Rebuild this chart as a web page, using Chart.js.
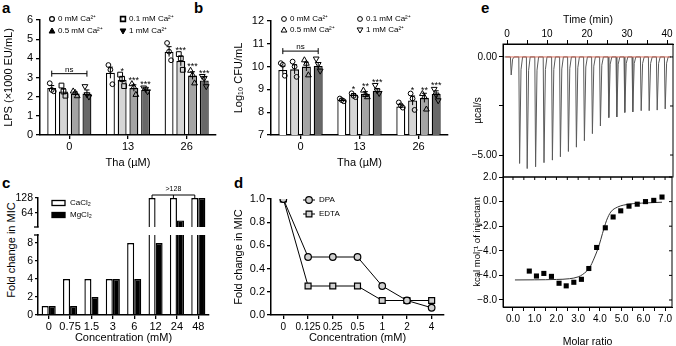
<!DOCTYPE html>
<html>
<head>
<meta charset="utf-8">
<script src="https://cdn.jsdelivr.net/npm/chart.js@4/dist/chart.umd.min.js"></script>
<style>
html,body{margin:0;padding:0;background:#fff;}
body{width:676px;height:346px;overflow:hidden;position:relative;font-family:'Liberation Sans',Arial,Helvetica,sans-serif;color:#000;}
canvas{position:absolute;}
.pl{position:absolute;font-weight:bold;font-size:15px;line-height:15px;}
.vt{position:absolute;width:200px;height:14px;line-height:14px;text-align:center;font-size:11px;transform:rotate(-90deg);white-space:nowrap;}
</style>
</head>
<body>
<div class="pl" style="left:2px;top:0px">a</div>
<div class="pl" style="left:194px;top:0px">b</div>
<div class="pl" style="left:2px;top:175px">c</div>
<div class="pl" style="left:234px;top:175px">d</div>
<div class="pl" style="left:481px;top:0px">e</div>
<div class="vt" style="left:-89px;top:243px">Fold change in MIC</div>
<canvas id="cA" width="218" height="175" style="left:0;top:0"></canvas>
<canvas id="cB" width="225" height="175" style="left:228px;top:0"></canvas>
<canvas id="cCtop" width="214" height="60" style="left:0;top:180px"></canvas>
<canvas id="cCbot" width="214" height="122" style="left:0;top:224px"></canvas>
<canvas id="cD" width="222" height="168" style="left:228px;top:178px"></canvas>
<canvas id="cEtop" width="208" height="190" style="left:468px;top:0"></canvas>
<canvas id="cEbot" width="208" height="185" style="left:468px;top:165px"></canvas>
<script>
// ================= DATA =================
// Panel a / b : Tha dose groups and Ca2+ series
const thaDoses = ['0', '13', '26'];
const caNames = ['0 mM Ca²⁺', '0.1 mM Ca²⁺', '0.5 mM Ca²⁺', '1 mM Ca²⁺'];

// Panel a: LPS (x1000 EU/mL)
const lpsCa0  = [2.45, 3.25, 4.35];
const lpsCa01 = [2.27, 2.88, 3.86];
const lpsCa05 = [2.17, 2.45, 3.10];
const lpsCa1  = [2.16, 2.35, 2.85];
const lpsSemCa0  = [0.13, 0.29, 0.26];
const lpsSemCa01 = [0.15, 0.18, 0.25];
const lpsSemCa05 = [0.08, 0.17, 0.20];
const lpsSemCa1  = [0.19, 0.06, 0.18];
const lpsPtsCa0  = [[2.70, 2.35, 2.28], [3.65, 3.40, 2.65], [4.80, 4.35, 3.90]];
const lpsPtsCa01 = [[2.58, 2.27, 2.05], [3.15, 2.92, 2.55], [4.22, 4.00, 3.40]];
const lpsPtsCa05 = [[2.30, 2.22, 2.05], [2.68, 2.52, 2.12], [3.38, 3.15, 2.72]];
const lpsPtsCa1  = [[2.52, 2.10, 1.98], [2.45, 2.38, 2.25], [3.05, 2.95, 2.52]];
const lpsStarsCa0  = ['', '', ''];
const lpsStarsCa01 = ['', '*', '***'];
const lpsStarsCa05 = ['', '***', '***'];
const lpsStarsCa1  = ['', '***', '***'];

// Panel b: Log10 CFU/mL
const cfuCa0  = [9.85, 8.55, 8.25];
const cfuCa01 = [9.88, 8.77, 8.51];
const cfuCa05 = [10.00, 8.81, 8.63];
const cfuCa1  = [10.03, 8.94, 8.80];
const cfuSemCa0  = [0.17, 0.04, 0.08];
const cfuSemCa01 = [0.20, 0.05, 0.20];
const cfuSemCa05 = [0.19, 0.09, 0.20];
const cfuSemCa1  = [0.15, 0.10, 0.14];
const cfuPtsCa0  = [[10.15, 10.08, 9.60], [8.60, 8.53, 8.48], [8.43, 8.30, 8.20]];
const cfuPtsCa01 = [[10.22, 10.00, 9.55], [8.83, 8.72, 8.66], [8.82, 8.60, 8.10]];
const cfuPtsCa05 = [[10.30, 10.15, 9.64], [8.97, 8.78, 8.68], [8.82, 8.68, 8.14]];
const cfuPtsCa1  = [[10.33, 10.09, 9.80], [9.17, 8.93, 8.82], [9.00, 8.75, 8.50]];
const cfuStarsCa0  = ['', '', ''];
const cfuStarsCa01 = ['', '*', '*'];
const cfuStarsCa05 = ['', '**', '**'];
const cfuStarsCa1  = ['', '***', '***'];

// Panel c: fold change in MIC vs salt concentration (128 = ">128")
const saltConc = ['0', '0.75', '1.5', '3', '6', '12', '24', '48'];
const micCaCl2 = [1, 4, 4, 4, 8, 128, 128, 128];
const micMgCl2 = [1, 1, 2, 4, 4, 8, 32, 128];
const micUpperTicks = [64, 128];

// Panel d: fold change in MIC vs chelator concentration
const chelConc = ['0', '0.125', '0.25', '0.5', '1', '2', '4'];
const micDPA  = [1, 0.5, 0.5, 0.5, 0.25, 0.125, 0.0625];
const micEDTA = [1, 0.25, 0.25, 0.25, 0.125, 0.125, 0.125];

// Panel e: ITC raw injections (time, min; peak, µcal/s)
const injTime = [0.9, 3.0, 4.9, 7.0, 9.1, 11.2, 13.2, 15.2, 17.2, 19.2, 21.2, 23.2, 25.3, 27.3, 29.3, 31.3, 33.4, 35.4, 37.4, 39.4];
const injPeak = [-0.92, -5.43, -5.69, -5.60, -5.39, -5.26, -5.09, -4.82, -4.60, -4.27, -3.91, -3.52, -3.09, -3.06, -2.83, -2.80, -2.74, -2.74, -2.71, -2.65];
const rateTicks = [-5, -2.5, 0];
const rateTickText = ['−5.00', '', '0.00'];
// Panel e: integrated heats
const molarRatio = [0.75, 1.08, 1.42, 1.77, 2.12, 2.45, 2.80, 3.15, 3.49, 3.85, 4.25, 4.61, 4.96, 5.34, 5.72, 6.10, 6.48, 6.86];
const heatKcal   = [-5.65, -6.05, -5.84, -6.08, -6.64, -6.85, -6.56, -6.32, -5.44, -3.73, -2.13, -1.25, -0.75, -0.37, -0.21, 0.00, 0.10, 0.37];
const fitRatio = [0.09, 1.0, 2.0, 2.6, 3.0, 3.21, 3.52, 3.74, 3.97, 4.12, 4.31, 4.50, 4.81, 5.34, 6.10, 6.86];
const fitKcal  = [-6.37, -6.36, -6.33, -6.27, -6.12, -5.92, -5.39, -4.59, -3.52, -2.59, -1.52, -0.85, -0.45, -0.21, -0.11, -0.05];
const heatTicks = [2, 0, -2, -4, -6, -8];
const heatTickText = ['2.0', '0.0', '−2.0', '−4.0', '−4.0', '−8.0'];

// ================= HELPERS =================
const FONT = "'Liberation Sans', Arial, Helvetica, sans-serif";
Chart.defaults.font.family = FONT;
Chart.defaults.color = '#000';

function tickGrid(len, lw) { return { display: true, drawOnChartArea: false, drawTicks: true, tickLength: len, color: '#000', lineWidth: lw, offset: false }; }
function axBorder(w) { return { display: true, color: '#000', width: w }; }
const basePlugins = { legend: { display: false }, tooltip: { enabled: false } };

function drawMarker(ctx, shape, x, y, r, fill, lw) {
  ctx.beginPath();
  if (shape === 'circle') ctx.arc(x, y, r, 0, Math.PI * 2);
  else if (shape === 'rect') ctx.rect(x - r, y - r, 2 * r, 2 * r);
  else if (shape === 'tri') { ctx.moveTo(x, y - r * 1.25); ctx.lineTo(x + r * 1.2, y + r * 0.85); ctx.lineTo(x - r * 1.2, y + r * 0.85); ctx.closePath(); }
  else if (shape === 'triDown') { ctx.moveTo(x, y + r * 1.25); ctx.lineTo(x + r * 1.2, y - r * 0.85); ctx.lineTo(x - r * 1.2, y - r * 0.85); ctx.closePath(); }
  if (fill) { ctx.fillStyle = fill; ctx.fill(); }
  ctx.lineWidth = lw; ctx.strokeStyle = '#000'; ctx.stroke();
}

function barOverlay(cfg) {
  return {
    id: 'barOverlay',
    afterDatasetsDraw(chart) {
      const ctx = chart.ctx, ys = chart.scales.y, area = chart.chartArea;
      ctx.save();
      cfg.series.forEach((s, i) => {
        chart.getDatasetMeta(i).data.forEach((bar, j) => {
          const x = bar.x, m = s.mean[j], e = s.sem[j];
          const yTop = ys.getPixelForValue(m + e), yBot = ys.getPixelForValue(m - e);
          ctx.strokeStyle = '#000'; ctx.lineWidth = 1;
          ctx.beginPath(); ctx.moveTo(x, yBot); ctx.lineTo(x, yTop);
          ctx.moveTo(x - 2.5, yTop); ctx.lineTo(x + 2.5, yTop); ctx.stroke();
          let hi = yTop;
          s.pts[j].forEach((v, k) => {
            const py = ys.getPixelForValue(v);
            hi = Math.min(hi, py - 3);
            drawMarker(ctx, s.shape, x + cfg.jitter[k], py, 2.4, null, 1);
          });
          if (s.stars[j]) {
            ctx.fillStyle = '#000'; ctx.font = '9px ' + FONT;
            ctx.textAlign = 'center'; ctx.textBaseline = 'alphabetic';
            ctx.fillText(s.stars[j], x, hi + 2);
          }
        });
      });
      // ns bracket
      const b = cfg.bracket;
      const x0 = chart.getDatasetMeta(0).data[b.cat].x, x3 = chart.getDatasetMeta(3).data[b.cat].x;
      const by = ys.getPixelForValue(b.value);
      ctx.strokeStyle = '#000'; ctx.lineWidth = 1;
      ctx.beginPath(); ctx.moveTo(x0, by); ctx.lineTo(x3, by);
      ctx.moveTo(x0, by - 3); ctx.lineTo(x0, by + 3); ctx.moveTo(x3, by - 3); ctx.lineTo(x3, by + 3); ctx.stroke();
      ctx.fillStyle = '#000'; ctx.font = '8px ' + FONT; ctx.textAlign = 'center'; ctx.textBaseline = 'alphabetic';
      ctx.fillText(b.text, (x0 + x3) / 2, by - 2);
      // legend
      cfg.legend.forEach((L, k) => {
        const lx = area.left + L.dx, ly = area.top + L.dy;
        drawMarker(ctx, L.shape, lx, ly, 2.4, L.fill, L.lw);
        ctx.fillStyle = '#000'; ctx.font = '8px ' + FONT; ctx.textAlign = 'left'; ctx.textBaseline = 'middle';
        ctx.fillText(cfg.series[k].name, lx + 6, ly);
      });
      ctx.restore();
    }
  };
}

const barFill = ['#ffffff', '#d6d6d6', '#a4a4a4', '#686868'];
function groupedBars(id, cfg) {
  return new Chart(document.getElementById(id), {
    type: 'bar',
    data: {
      labels: cfg.labels,
      datasets: cfg.series.map((s, i) => ({ label: s.name, data: s.mean, backgroundColor: barFill[i], borderColor: '#000', borderWidth: 1.3, categoryPercentage: 0.8, barPercentage: 0.76 }))
    },
    options: {
      responsive: false, animation: false, events: [],
      layout: { padding: cfg.padding },
      plugins: basePlugins,
      scales: {
        x: {
          offset: true, grid: tickGrid(4, 1.3), border: axBorder(1.5),
          ticks: { font: { size: 11 }, padding: 1, autoSkip: false, maxRotation: 0, color: '#000' },
          title: { display: true, text: cfg.xTitle, font: { size: 11 }, padding: { top: 0, bottom: 5 }, color: '#000' },
          afterFit: s => { s.height = cfg.xH; }
        },
        y: {
          min: cfg.yMin, max: cfg.yMax, grid: tickGrid(4, 1.3), border: axBorder(1.5),
          ticks: { stepSize: 1, font: { size: 11 }, padding: 3, color: '#000', includeBounds: false },
          title: { display: true, text: cfg.yTitle, font: { size: 11 }, padding: { top: cfg.yTitlePad, bottom: 0 }, color: '#000' },
          afterFit: s => { s.width = cfg.yW; }
        }
      }
    },
    plugins: [barOverlay(cfg)]
  });
}

// ================= PANEL a =================
groupedBars('cA', {
  labels: thaDoses,
  series: [
    { name: caNames[0], mean: lpsCa0, sem: lpsSemCa0, pts: lpsPtsCa0, stars: lpsStarsCa0, shape: 'circle' },
    { name: caNames[1], mean: lpsCa01, sem: lpsSemCa01, pts: lpsPtsCa01, stars: lpsStarsCa01, shape: 'rect' },
    { name: caNames[2], mean: lpsCa05, sem: lpsSemCa05, pts: lpsPtsCa05, stars: lpsStarsCa05, shape: 'tri' },
    { name: caNames[3], mean: lpsCa1, sem: lpsSemCa1, pts: lpsPtsCa1, stars: lpsStarsCa1, shape: 'triDown' }
  ],
  legend: [
    { dx: 12, dy: -1, shape: 'circle', fill: null, lw: 1.2 },
    { dx: 83, dy: -1, shape: 'rect', fill: null, lw: 1.6 },
    { dx: 12, dy: 11, shape: 'tri', fill: '#000', lw: 1 },
    { dx: 83, dy: 11, shape: 'triDown', fill: '#000', lw: 1 }
  ],
  bracket: { cat: 0, value: 3.2, text: 'ns' },
  jitter: [-2, 0, 2],
  yMin: 0, yMax: 6, yTitle: 'LPS (×1000 EU/mL)', xTitle: 'Tha (µM)',
  padding: { top: 20, right: 2, left: 0, bottom: 0 }, yW: 40, xH: 40, yTitlePad: 2
});

// ================= PANEL b =================
groupedBars('cB', {
  labels: thaDoses,
  series: [
    { name: caNames[0], mean: cfuCa0, sem: cfuSemCa0, pts: cfuPtsCa0, stars: cfuStarsCa0, shape: 'circle' },
    { name: caNames[1], mean: cfuCa01, sem: cfuSemCa01, pts: cfuPtsCa01, stars: cfuStarsCa01, shape: 'circle' },
    { name: caNames[2], mean: cfuCa05, sem: cfuSemCa05, pts: cfuPtsCa05, stars: cfuStarsCa05, shape: 'tri' },
    { name: caNames[3], mean: cfuCa1, sem: cfuSemCa1, pts: cfuPtsCa1, stars: cfuStarsCa1, shape: 'triDown' }
  ],
  legend: [
    { dx: 13, dy: -2, shape: 'circle', fill: null, lw: 1 },
    { dx: 89, dy: -2, shape: 'circle', fill: null, lw: 1 },
    { dx: 13, dy: 9, shape: 'tri', fill: null, lw: 1 },
    { dx: 89, dy: 9, shape: 'triDown', fill: null, lw: 1 }
  ],
  bracket: { cat: 0, value: 10.68, text: 'ns' },
  jitter: [-2, 0, 2],
  yMin: 7, yMax: 12, yTitle: 'Log₁₀ CFU/mL', xTitle: 'Tha (µM)',
  padding: { top: 21, right: 5, left: 0, bottom: 0 }, yW: 43, xH: 40, yTitlePad: 4
});

// ================= PANEL c (broken axis) =================
const cBarSets = (top) => [
  { label: 'CaCl₂', data: micCaCl2.map(v => top ? (v > 9 ? v : null) : v), backgroundColor: '#fff', borderColor: '#000', borderWidth: 1.4, categoryPercentage: 0.66, barPercentage: 1.0, clip: { left: 5, right: 5, top: top ? 2 : 0, bottom: 0 } },
  { label: 'MgCl₂', data: micMgCl2.map(v => top ? (v > 9 ? v : null) : v), backgroundColor: '#000', borderColor: '#000', borderWidth: 1.4, categoryPercentage: 0.66, barPercentage: 1.0, clip: { left: 5, right: 5, top: top ? 2 : 0, bottom: 0 } }
];

new Chart(document.getElementById('cCtop'), {
  type: 'bar',
  data: { labels: saltConc, datasets: cBarSets(true) },
  options: {
    responsive: false, animation: false, events: [],
    layout: { padding: { top: 18, bottom: 13, right: 5, left: 0 } },
    plugins: basePlugins,
    scales: {
      x: { display: false, offset: true },
      y: {
        min: 4, max: 128, grid: tickGrid(3, 1.3), border: axBorder(1.5),
        afterBuildTicks: s => { s.ticks = micUpperTicks.map(v => ({ value: v })); },
        ticks: { font: { size: 10.5 }, padding: 2, color: '#000' },
        afterFit: s => { s.width = 38; }
      }
    }
  },
  plugins: [{
    id: 'cTop',
    afterDatasetsDraw(chart) {
      const ctx = chart.ctx, a = chart.chartArea, ys = chart.scales.y, meta = chart.getDatasetMeta(0);
      ctx.save();
      ctx.strokeStyle = '#000'; ctx.lineWidth = 1;
      // bracket over >128 CaCl2 bars
      const xs = micCaCl2.map((v, i) => v >= 128 ? meta.data[i].x : null).filter(v => v !== null);
      const by = ys.getPixelForValue(128) - 3;
      ctx.beginPath(); ctx.moveTo(xs[0], by); ctx.lineTo(xs[xs.length - 1], by);
      xs.forEach(x => { ctx.moveTo(x, by); ctx.lineTo(x, by + 3); });
      ctx.stroke();
      ctx.fillStyle = '#000'; ctx.font = '7px ' + FONT; ctx.textAlign = 'center'; ctx.textBaseline = 'alphabetic';
      ctx.fillText('>128', xs[Math.floor(xs.length / 2)], by - 4);
      // break tick
      ctx.lineWidth = 1.3;
      ctx.beginPath(); ctx.moveTo(a.left - 4, a.bottom); ctx.lineTo(a.left + 0.7, a.bottom); ctx.stroke();
      // legend
      const names = ['CaCl₂', 'MgCl₂'], fills = ['#fff', '#000'];
      names.forEach((n, k) => {
        const lx = a.left + 14, ly = a.top + 5 + k * 12;
        ctx.fillStyle = fills[k]; ctx.fillRect(lx, ly - 2.5, 13, 5);
        ctx.strokeStyle = '#000'; ctx.lineWidth = 1.3; ctx.strokeRect(lx, ly - 2.5, 13, 5);
        ctx.fillStyle = '#000'; ctx.font = '8px ' + FONT; ctx.textAlign = 'left'; ctx.textBaseline = 'middle';
        ctx.fillText(n, lx + 18, ly);
      });
      ctx.restore();
    }
  }]
});

new Chart(document.getElementById('cCbot'), {
  type: 'bar',
  data: { labels: saltConc, datasets: cBarSets(false) },
  options: {
    responsive: false, animation: false, events: [],
    layout: { padding: { top: 11, bottom: 0, right: 5, left: 0 } },
    plugins: basePlugins,
    scales: {
      x: {
        offset: true, grid: tickGrid(4, 1.3), border: axBorder(1.5),
        ticks: { font: { size: 11 }, padding: 1, autoSkip: false, maxRotation: 0, color: '#000' },
        title: { display: true, text: 'Concentration (mM)', font: { size: 11 }, padding: { top: 0, bottom: 1 }, color: '#000' },
        afterFit: s => { s.height = 31; }
      },
      y: {
        min: 0, max: 8.9, grid: tickGrid(3, 1.3), border: axBorder(1.5),
        ticks: { stepSize: 1, includeBounds: false, font: { size: 10.5 }, padding: 2, color: '#000', callback: v => (v % 2 === 0 ? String(v) : '') },
        afterFit: s => { s.width = 38; }
      }
    }
  },
  plugins: [{
    id: 'cBot',
    afterDatasetsDraw(chart) {
      const ctx = chart.ctx, a = chart.chartArea;
      ctx.save(); ctx.strokeStyle = '#000'; ctx.lineWidth = 1.3;
      ctx.beginPath(); ctx.moveTo(a.left - 4, a.top); ctx.lineTo(a.left + 0.7, a.top); ctx.stroke();
      ctx.restore();
    }
  }]
});

// ================= PANEL d =================
new Chart(document.getElementById('cD'), {
  type: 'line',
  data: {
    labels: chelConc,
    datasets: [
      { label: 'DPA', data: micDPA, borderColor: '#000', borderWidth: 1, pointStyle: 'circle', pointRadius: 3.3, pointBackgroundColor: '#d0d0d0', pointBorderColor: '#000', pointBorderWidth: 1.2, tension: 0 },
      { label: 'EDTA', data: micEDTA, borderColor: '#000', borderWidth: 1, pointStyle: 'rect', pointRadius: 4.2, pointBackgroundColor: '#d0d0d0', pointBorderColor: '#000', pointBorderWidth: 1.2, tension: 0 }
    ]
  },
  options: {
    responsive: false, animation: false, events: [],
    layout: { padding: { top: 21, right: 6, left: 0, bottom: 0 } },
    plugins: basePlugins,
    scales: {
      x: {
        offset: true, grid: tickGrid(4, 1.3), border: axBorder(1.5),
        ticks: { font: { size: 10 }, padding: 2, autoSkip: false, maxRotation: 0, color: '#000' },
        title: { display: true, text: 'Concentration (mM)', font: { size: 11 }, padding: { top: 0, bottom: 1 }, color: '#000' },
        afterFit: s => { s.height = 31; }
      },
      y: {
        min: 0, max: 1, grid: tickGrid(4, 1.3), border: axBorder(1.5),
        ticks: { stepSize: 0.1, font: { size: 11 }, padding: 2, color: '#000', callback: v => { const k = Math.round(v * 10); return k % 2 === 0 ? (k / 10).toFixed(1) : ''; } },
        title: { display: true, text: 'Fold change in MIC', font: { size: 11 }, padding: { top: 4, bottom: 0 }, color: '#000' },
        afterFit: s => { s.width = 43; }
      }
    }
  },
  plugins: [{
    id: 'dLegend',
    afterDraw(chart) {
      const ctx = chart.ctx, a = chart.chartArea;
      ctx.save();
      const items = [['DPA', 'circle', 3.3], ['EDTA', 'rect', 2.9]];
      items.forEach((it, k) => {
        const lx = a.left + 38, ly = a.top + 1 + k * 14;
        ctx.strokeStyle = '#000'; ctx.lineWidth = 1;
        ctx.beginPath(); ctx.moveTo(lx - 6, ly); ctx.lineTo(lx + 6, ly); ctx.stroke();
        drawMarker(ctx, it[1], lx, ly, it[2], '#d0d0d0', 1.2);
        ctx.fillStyle = '#000'; ctx.font = '8px ' + FONT; ctx.textAlign = 'left'; ctx.textBaseline = 'middle';
        ctx.fillText(it[0], lx + 10, ly);
      });
      ctx.restore();
    }
  }]
});

// ================= PANEL e =================
function frameTicks(mirrorXTop) {
  return {
    id: 'frame',
    afterDraw(chart) {
      const ctx = chart.ctx, a = chart.chartArea;
      ctx.save(); ctx.strokeStyle = '#000'; ctx.lineWidth = 1;
      ctx.strokeRect(a.left, a.top, a.right - a.left, a.bottom - a.top);
      ctx.beginPath();
      chart.scales.y.ticks.forEach(t => { const y = chart.scales.y.getPixelForValue(t.value); ctx.moveTo(a.right, y); ctx.lineTo(a.right - 3, y); });
      if (mirrorXTop) chart.scales.x.ticks.forEach(t => { const x = chart.scales.x.getPixelForValue(t.value); ctx.moveTo(x, a.top); ctx.lineTo(x, a.top + 3); });
      ctx.stroke(); ctx.restore();
    }
  };
}

const itcTrace = [{ x: -0.6, y: 0 }];
injTime.forEach((t, i) => {
  const d = injPeak[i];
  itcTrace.push({ x: t - 0.05, y: 0 }, { x: t + 0.15, y: d }, { x: t + 0.5, y: d * 0.12 }, { x: t + 0.9, y: 0 });
});
itcTrace.push({ x: 41, y: 0 });

new Chart(document.getElementById('cEtop'), {
  type: 'scatter',
  data: {
    datasets: [
      { data: [{ x: -0.3, y: 0 }, { x: 40.8, y: 0 }], showLine: true, borderColor: 'rgba(215,90,70,0.85)', borderWidth: 1, pointRadius: 0 },
      { data: itcTrace, showLine: true, borderColor: '#5a5a5a', borderWidth: 1, pointRadius: 0 }
    ]
  },
  options: {
    responsive: false, animation: false, events: [],
    layout: { padding: { top: 10, bottom: 13, right: 3, left: 0 } },
    plugins: basePlugins,
    scales: {
      x: {
        type: 'linear', position: 'top', min: -1, max: 41.5,
        grid: tickGrid(4, 1), border: axBorder(1),
        ticks: { stepSize: 5, includeBounds: false, font: { size: 10 }, padding: 0, color: '#000', maxRotation: 0, callback: v => (v % 10 === 0 ? String(v) : '') },
        title: { display: true, text: 'Time (min)', font: { size: 10.5 }, padding: { top: 4, bottom: 0 }, color: '#000' },
        afterFit: s => { s.height = 34; }
      },
      y: {
        min: -6.12, max: 0.66, grid: tickGrid(4, 1), border: axBorder(1),
        afterBuildTicks: s => { s.ticks = rateTicks.map(v => ({ value: v })); },
        ticks: { font: { size: 10 }, padding: 2, color: '#000', callback: (v, i) => rateTickText[rateTicks.indexOf(v)] },
        title: { display: true, text: 'µcal/s', font: { size: 10 }, padding: { top: 4, bottom: 0 }, color: '#000' },
        afterFit: s => { s.width = 35; }
      }
    }
  },
  plugins: [frameTicks(false)]
});

new Chart(document.getElementById('cEbot'), {
  type: 'scatter',
  data: {
    datasets: [
      { data: molarRatio.map((x, i) => ({ x, y: heatKcal[i] })), pointStyle: 'rect', pointRadius: 3.6, pointBackgroundColor: '#000', pointBorderColor: '#000', pointBorderWidth: 0 },
      { data: fitRatio.map((x, i) => ({ x, y: fitKcal[i] })), showLine: true, borderColor: '#333', borderWidth: 1, pointRadius: 0, cubicInterpolationMode: 'monotone' }
    ]
  },
  options: {
    responsive: false, animation: false, events: [],
    layout: { padding: { top: 12, bottom: 0, right: 3, left: 0 } },
    plugins: basePlugins,
    scales: {
      x: {
        type: 'linear', min: -0.46, max: 7.32,
        grid: tickGrid(4, 1), border: axBorder(1),
        ticks: { stepSize: 0.5, includeBounds: false, font: { size: 10 }, padding: 2, color: '#000', maxRotation: 0, autoSkip: false, callback: v => (Math.abs(v - Math.round(v)) < 1e-6 ? v.toFixed(1) : '') },
        title: { display: true, text: 'Molar ratio', font: { size: 10.5 }, padding: { top: 0, bottom: 2 }, color: '#000' },
        afterFit: s => { s.height = 43; }
      },
      y: {
        min: -8.57, max: 2.0, grid: tickGrid(4, 1), border: axBorder(1),
        ticks: { stepSize: 1, includeBounds: false, font: { size: 10 }, padding: 2, color: '#000', callback: v => { const k = heatTicks.indexOf(v); return k >= 0 ? heatTickText[k] : ''; } },
        title: { display: true, text: 'kcal mol⁻¹ of injectant', font: { size: 9.5 }, padding: { top: 4, bottom: 0 }, color: '#000' },
        afterFit: s => { s.width = 35; }
      }
    }
  },
  plugins: [frameTicks(true)]
});
</script>
</body>
</html>
